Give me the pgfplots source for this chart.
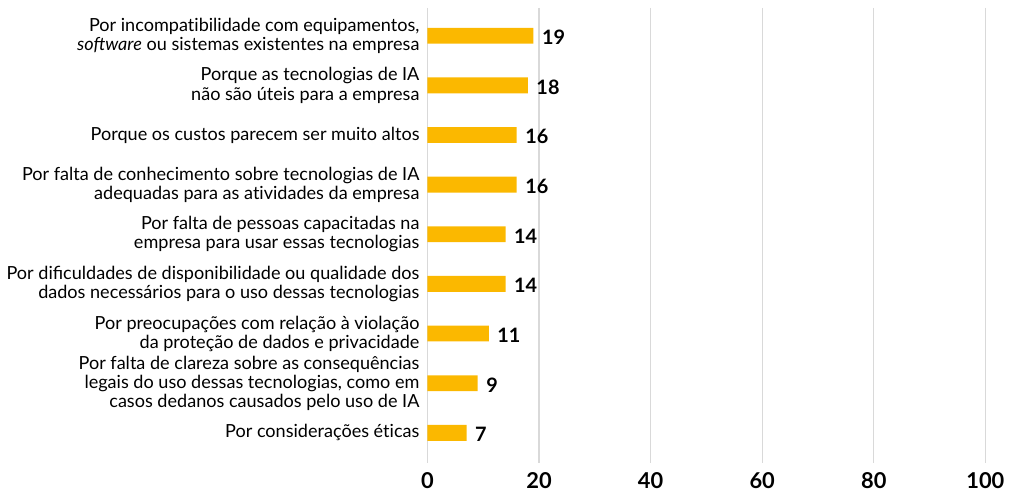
\documentclass[border=0pt]{standalone}
\usepackage{fontspec}
\setmainfont{Lato}
\usepackage{pgfplots}
\pgfplotsset{compat=1.18}
\definecolor{barorange}{HTML}{FBB800}
\definecolor{gridgray}{HTML}{D9D9D9}
% break the t-i ligature that Lato applies
\newcommand\nti{t\kern0pt i}

\begin{document}
\begin{tikzpicture}
\begin{axis}[
  scale only axis, width=281pt, height=229pt,
  xbar, bar width=8pt,
  xmin=0, xmax=100, xtick={0,20,...,100},
  ymin=-0.56, ymax=8.6, y dir=reverse,
  ytick={0,...,8},
  yticklabels={
    {Por incompa\nti bilidade com equipamentos,\\\textit{software} ou sistemas existentes na empresa},
    {Porque as tecnologias de IA\\não são úteis para a empresa},
    {Porque os custos parecem ser muito altos},
    {Por falta de conhecimento sobre tecnologias de IA\\adequadas para as a\nti vidades da empresa},
    {Por falta de pessoas capacitadas na\\empresa para usar essas tecnologias},
    {Por dificuldades de disponibilidade ou qualidade dos\\dados necessários para o uso dessas tecnologias},
    {Por preocupações com relação à violação\\da proteção de dados e privacidade},
    {Por falta de clareza sobre as consequências\\legais do uso dessas tecnologias, como em\\casos dedanos causados pelo uso de IA},
    {Por considerações é\nti cas}},
  yticklabel style={align=right, font=\fontsize{9.1}{9.6}\selectfont, xshift=-0.5pt},
  xticklabel style={font=\bfseries\fontsize{11}{13}\selectfont, yshift=-1.5pt},
  /pgf/number format/assume math mode=true,
  axis line style={draw=none}, major tick length=0pt,
  xmajorgrids, grid style={gridgray, line width=0.6pt},
  nodes near coords,
  nodes near coords style={font=\bfseries\fontsize{10}{12}\selectfont, anchor=west, xshift=0.8pt, yshift=-0.8pt},
]
\addplot[fill=barorange, draw=none] coordinates {
  (19,0) (18,1) (16,2) (16,3) (14,4) (14,5) (11,6) (9,7) (7,8)};
\end{axis}
\path (current axis.north) ++(0,4pt);
\end{tikzpicture}
\end{document}
